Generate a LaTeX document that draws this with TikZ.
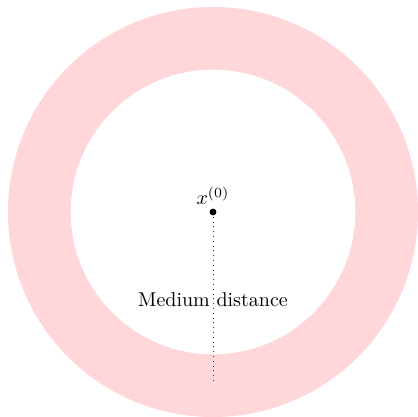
\documentclass[tikz,border=0pt]{standalone}
\definecolor{ringpink}{RGB}{255,214,217}
\begin{document}
\begin{tikzpicture}[x=0.5pt,y=-0.5pt,
  guide/.style={dotted,line width=0.4pt,black!80},
  lbl/.style={inner sep=1pt}]
\useasboundingbox (0,0) rectangle (418,417);
\coordinate (c) at (213,212);
\fill[ringpink,even odd rule] (c) circle[radius=102.5pt] (c) circle[radius=71.2pt];
\fill (c) circle[radius=1.7pt];
\node[lbl,anchor=south] (x0) at (213,207) {$x^{(0)}$};
\coordinate (e) at (213,382);
\draw[guide] (c) -- (e);
\node[lbl] (md) at (213,300) {Medium distance};
\end{tikzpicture}
\end{document}
